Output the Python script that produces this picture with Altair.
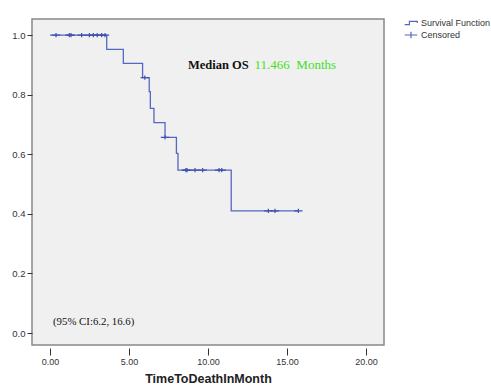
import altair as alt
import pandas as pd

# Kaplan-Meier step function
step_times = [0.0, 3.59, 4.64, 5.86, 6.28, 6.35, 6.58, 7.28, 8.00, 8.10, 11.47, 15.72]
step_surv = [1.0, 0.952, 0.905, 0.857, 0.810, 0.754, 0.706, 0.657, 0.603, 0.547, 0.410, 0.410]

# Censored observations
cens_times = [0.38, 1.22, 1.33, 2.00, 2.49, 2.74, 2.99, 3.27, 3.48, 6.00, 7.28,
              8.60, 8.67, 9.18, 9.66, 10.70, 10.87, 13.82, 14.24, 15.72]
cens_surv = [1.0, 1.0, 1.0, 1.0, 1.0, 1.0, 1.0, 1.0, 1.0, 0.857, 0.657,
             0.547, 0.547, 0.547, 0.547, 0.547, 0.547, 0.410, 0.410, 0.410]

series_names = ["Survival Function", "Censored"]
x_ticks = [0, 5, 10, 15, 20]
y_ticks = [0.0, 0.2, 0.4, 0.6, 0.8, 1.0]

# annotations (data coordinates)
ann_label_x = [8.73]
ann_label_y = [0.90]
ann_value_x = [12.95]
ann_ci_x = [0.19]
ann_ci_y = [0.037]

blue = "#5468c2"

step_df = pd.DataFrame({"t": step_times, "s": step_surv, "series": "Survival Function"})
cens_df = pd.DataFrame({"t": cens_times, "s": cens_surv, "series": "Censored"})

xscale = alt.Scale(domain=[-1.14, 21.14], nice=False, zero=False)
yscale = alt.Scale(domain=[-0.04, 1.054], nice=False, zero=False)

xaxis = alt.Axis(values=x_ticks, format=".2f", title="TimeToDeathInMonth", grid=False,
                 domain=False, offset=3, tickSize=7, tickColor="#333", labelFontSize=9,
                 labelColor="#333", labelFont="Liberation Sans", labelPadding=2,
                 titleFont="Liberation Sans", titleFontSize=12.5, titleFontWeight="bold",
                 titleColor="#222", titlePadding=6)
yaxis = alt.Axis(values=y_ticks, format=".1f", title=None, grid=False, domain=False,
                 tickSize=5, tickColor="#333", labelFontSize=9.5, labelColor="#333",
                 labelFont="Liberation Sans", labelPadding=2)

step_path = "M-1,0.25L-0.25,0.25L-0.25,-0.25L1,-0.25L1,0"
cross_path = "M-1,0L1,0M0,-0.5L0,0.5"

line = alt.Chart(step_df).mark_line(interpolate="step-after", color=blue, strokeWidth=1.3).encode(
    x=alt.X("t:Q", scale=xscale, axis=xaxis),
    y=alt.Y("s:Q", scale=yscale, axis=yaxis),
)

cens = alt.Chart(cens_df).mark_point(filled=False, color="#3f50b0", strokeWidth=1.2, size=70, opacity=1).encode(
    x=alt.X("t:Q", scale=xscale),
    y=alt.Y("s:Q", scale=yscale),
    shape=alt.Shape("series:N", scale=alt.Scale(domain=series_names, range=[step_path, cross_path]),
                    legend=alt.Legend(title=None, orient="none", legendX=372, legendY=-3,
                                      labelFont="Liberation Sans", labelFontSize=9,
                                      labelColor="#333", symbolSize=160,
                                      symbolStrokeColor=blue, symbolStrokeWidth=1.2,
                                      symbolFillColor="transparent", rowPadding=0,
                                      labelOffset=3, padding=0, symbolOffset=0)),
)

label_df = pd.DataFrame({"x": ann_label_x, "y": ann_label_y, "txt": ["Median OS"]})
value_df = pd.DataFrame({"x": ann_value_x, "y": ann_label_y, "txt": ["11.466\u00a0\u00a0Months"]})
ci_df = pd.DataFrame({"x": ann_ci_x, "y": ann_ci_y, "txt": ["(95% CI:6.2, 16.6)"]})

t1 = alt.Chart(label_df).mark_text(align="left", baseline="middle", font="Liberation Serif",
                                   fontSize=12.5, fontWeight="bold", color="#111").encode(
    x=alt.X("x:Q", scale=xscale), y=alt.Y("y:Q", scale=yscale), text="txt:N")
t2 = alt.Chart(value_df).mark_text(align="left", baseline="middle", font="Liberation Serif",
                                   fontSize=13, color="#44e024").encode(
    x=alt.X("x:Q", scale=xscale), y=alt.Y("y:Q", scale=yscale), text="txt:N")
t3 = alt.Chart(ci_df).mark_text(align="left", baseline="middle", font="Liberation Serif",
                                fontSize=10.8, color="#111").encode(
    x=alt.X("x:Q", scale=xscale), y=alt.Y("y:Q", scale=yscale), text="txt:N")

chart = alt.layer(line, cens, t1, t2, t3).properties(
    width=352, height=326,
    autosize=alt.AutoSizeParams(type="none"),
    padding={"left": 32, "top": 19, "right": 107, "bottom": 44},
    background="white",
).configure_view(fill="#f0f0f0", stroke="#888888", strokeWidth=1.5)

chart.save("out.html", embed_options={"renderer": "svg", "actions": False})
